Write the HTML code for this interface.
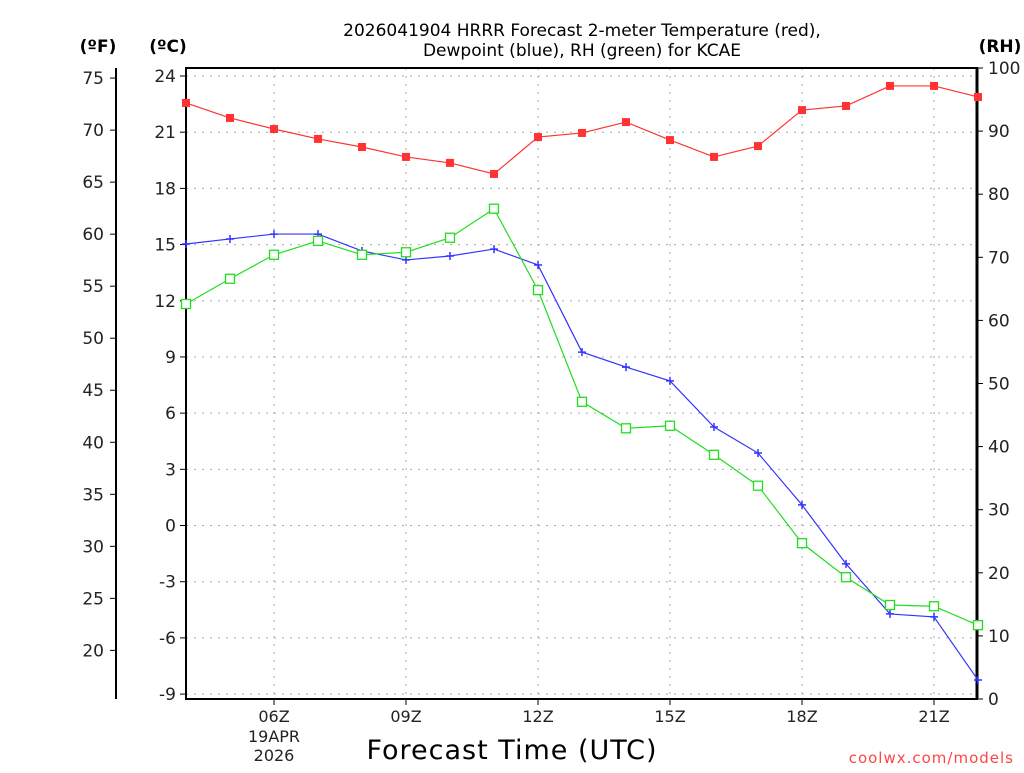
<!DOCTYPE html>
<html><head><meta charset="utf-8"><style>
body{margin:0;background:#fff;width:1024px;height:768px;overflow:hidden}
svg text{font-family:"DejaVu Sans","Liberation Sans",sans-serif}
</style></head><body>
<svg id="chart" width="1024" height="768" viewBox="0 0 1024 768" xmlns="http://www.w3.org/2000/svg"></svg>
<script>
const hours=[4,5,6,7,8,9,10,11,12,13,14,15,16,17,18,19,20,21,22];
const tempC=[22.56,21.76,21.17,20.64,20.21,19.68,19.36,18.77,20.74,20.96,21.54,20.58,19.68,20.26,22.18,22.40,23.47,23.47,22.88];
const dewC=[15.03,15.30,15.56,15.56,14.66,14.18,14.39,14.76,13.91,9.26,8.46,7.72,5.26,3.87,1.10,-2.05,-4.72,-4.88,-8.25];
const rh=[62.6,66.6,70.4,72.6,70.4,70.8,73.1,77.7,64.8,47.1,42.9,43.3,38.7,33.8,24.7,19.3,14.9,14.7,11.7];
const cTicks=[24,21,18,15,12,9,6,3,0,-3,-6,-9];
const fTicks=[75,70,65,60,55,50,45,40,35,30,25,20];
const rhTicks=[100,90,80,70,60,50,40,30,20,10,0];
const xTicks=[6,9,12,15,18,21];
const xLabels=["06Z","09Z","12Z","15Z","18Z","21Z"];

const L=186,R=977,T=68,B=699;
const x=h=>L+(h-4)*44;
const yC=c=>76+(24-c)*18.73;
const yF=f=>yC((f-32)*5/9);
const yR=r=>B-r*6.31;
const svg=document.getElementById('chart');
const NS='http://www.w3.org/2000/svg';
function mk(tag,a,parent){const e=document.createElementNS(NS,tag);for(const k in a)e.setAttribute(k,a[k]);(parent||svg).appendChild(e);return e;}
function txt(s,a){const e=mk('text',a);e.textContent=s;return e;}

// grid
cTicks.forEach(c=>{const e=mk('line',{x1:L,x2:R,y1:yC(c),y2:yC(c),stroke:'#aaa','stroke-dasharray':'2,6'});

});
xTicks.forEach(h=>{const e=mk('line',{x1:x(h),x2:x(h),y1:T,y2:B,stroke:'#aaa','stroke-dasharray':'2,6'});

});

// frame
const fr=mk('rect',{x:L,y:T,width:R-L,height:B-T,fill:'none',stroke:'#000','stroke-width':2});


mk('line',{x1:R,x2:R,y1:T,y2:B,stroke:'#000','stroke-width':3});
// F axis
mk('line',{x1:116,x2:116,y1:T,y2:B,stroke:'#000','stroke-width':2});
fTicks.forEach(f=>{mk('line',{x1:110,x2:116,y1:yF(f),y2:yF(f),stroke:'#000'});
const t=txt(f,{x:104,y:yF(f)+6,'text-anchor':'end','font-size':17,fill:'#222'});

});
cTicks.forEach(c=>{mk('line',{x1:180,x2:L,y1:yC(c),y2:yC(c),stroke:'#000'});
const t=txt(c,{x:176,y:yC(c)+6,'text-anchor':'end','font-size':17,fill:'#222'});

});
rhTicks.forEach(r=>{mk('line',{x1:R,x2:R+6,y1:yR(r),y2:yR(r),stroke:'#000'});
const t=txt(r,{x:988,y:yR(r)+6,'font-size':17,fill:'#222'});

});
xTicks.forEach((h,i)=>{mk('line',{x1:x(h),x2:x(h),y1:B,y2:B+6,stroke:'#000'});
const t=txt(xLabels[i],{x:x(h),y:722,'text-anchor':'middle','font-size':16,fill:'#222'});

});
txt('19APR',{x:274,y:742,'text-anchor':'middle','font-size':16,fill:'#222'});
txt('2026',{x:274,y:761,'text-anchor':'middle','font-size':16,fill:'#222'});

// headers
txt('(ºF)',{x:98,y:52,'text-anchor':'middle','font-size':17,'font-weight':'bold'});
txt('(ºC)',{x:168,y:52,'text-anchor':'middle','font-size':17,'font-weight':'bold'});
txt('(RH)',{x:1000,y:52,'text-anchor':'middle','font-size':17,'font-weight':'bold'});
const t1=txt('2026041904 HRRR Forecast 2-meter Temperature (red),',{x:582,y:36,'text-anchor':'middle','font-size':17});


txt('Dewpoint (blue), RH (green) for KCAE',{x:582,y:56,'text-anchor':'middle','font-size':17});
const xt=txt('Forecast Time (UTC)',{x:512,y:759,'text-anchor':'middle','font-size':27,'letter-spacing':'1'});


txt('coolwx.com/models',{x:1014,y:763,'text-anchor':'end','font-size':15,fill:'#f44','letter-spacing':'1'});

// series
function series(vals,yf,color,marker,name){
  const pts=vals.map((v,i)=>[x(hours[i]),yf(v)]);
  const pl=mk('polyline',{points:pts.map(p=>p.join(',')).join(' '),fill:'none',stroke:color,'stroke-width':1.2});
  
  
  pts.forEach(p=>{let m;
    if(marker==='sq') m=mk('rect',{x:p[0]-4,y:p[1]-4,width:8,height:8,fill:color});
    else if(marker==='open') m=mk('rect',{x:p[0]-4.5,y:p[1]-4.5,width:9,height:9,fill:'#fff',stroke:color,'stroke-width':1.3});
    else {m=mk('path',{d:`M${p[0]-4},${p[1]}H${p[0]+4}M${p[0]},${p[1]-4}V${p[1]+4}`,stroke:color,'stroke-width':1.5});}
    
    
  });
}
series(tempC,yC,'#f33','sq','temperature');
series(dewC,yC,'#33f','plus','dewpoint');
series(rh,yR,'#2d2','open','rh');
</script>
</body></html>
